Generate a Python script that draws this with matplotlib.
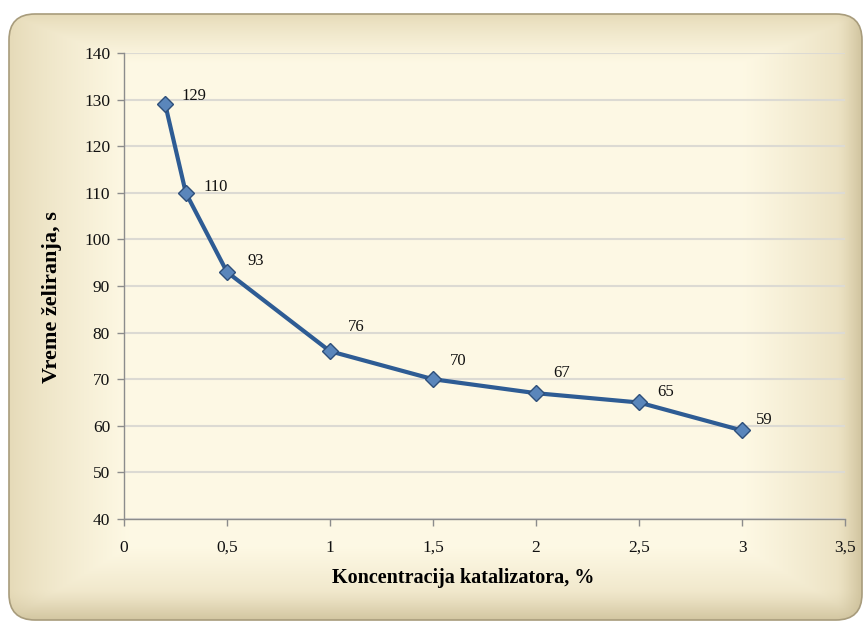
import numpy as np
import matplotlib
matplotlib.use("Agg")
import matplotlib.pyplot as plt
from matplotlib.patches import FancyBboxPatch

x_vals = [0.2, 0.3, 0.5, 1.0, 1.5, 2.0, 2.5, 3.0]
y_vals = [129, 110, 93, 76, 70, 67, 65, 59]
labels = ["129", "110", "93", "76", "70", "67", "65", "59"]
x_ticks = [0, 0.5, 1, 1.5, 2, 2.5, 3, 3.5]
x_tick_labels = ["0", "0,5", "1", "1,5", "2", "2,5", "3", "3,5"]
y_ticks = [40, 50, 60, 70, 80, 90, 100, 110, 120, 130, 140]
x_title = "Koncentracija katalizatora, %"
y_title = "Vreme želiranja, s"

# label offsets in pixels (layout only)
label_dx = [16, 18, 20, 18, 17, 17, 18, 14]
label_dy = [8, 6, 11, 24, 18, 20, 11, 10]

plt.rcParams['font.family'] = ['Liberation Serif', 'DejaVu Serif']

W, H = 863, 623
fig = plt.figure(figsize=(W / 100, H / 100), dpi=100)
fig.patch.set_facecolor("white")

# background frame with gradient
bg = fig.add_axes([0, 0, 1, 1])
bg.set_xlim(0, W)
bg.set_ylim(H, 0)
bg.axis("off")
x0, y0, x1, y1 = 9, 14, W - 1, 620
nx, ny = 500, 360
xx = np.linspace(0, 1, nx)
yy = np.linspace(0, 1, ny)
X, Y = np.meshgrid(xx, yy)
tl = np.clip(X / 0.14, 0, 1)
tr = np.clip((1 - X) / 0.14, 0, 1)
tt = np.clip(Y / 0.08, 0, 1)
tb = np.clip((1 - Y) / 0.12, 0, 1)
t = np.minimum(np.minimum(tl, tr), np.minimum(tt, tb))
t = t ** 0.8
c_edge = np.array([0.90, 0.855, 0.72])
c_mid = np.array([0.995, 0.975, 0.895])
img = c_edge[None, None, :] * (1 - t[..., None]) + c_mid[None, None, :] * t[..., None]
# darker rim near right and bottom
rim_r = (np.clip(1 - (1 - X) / 0.03, 0, 1) ** 1.5)[..., None]
rim_b = (np.clip(1 - (1 - Y) / 0.05, 0, 1) ** 1.5)[..., None]
dark = np.array([0.78, 0.73, 0.58])
img = img * (1 - 0.7 * rim_r) + dark * 0.7 * rim_r
img = img * (1 - 0.6 * rim_b) + dark * 0.6 * rim_b
frame = FancyBboxPatch((x0, y0), x1 - x0, y1 - y0, boxstyle="round,pad=0,rounding_size=26",
                       facecolor="none", edgecolor="#a89c7c", linewidth=1.2, zorder=3)
bg.add_patch(frame)
im = bg.imshow(img, extent=(x0, x1, y1, y0), aspect="auto", zorder=1)
im.set_clip_path(frame)

ax = fig.add_axes([124 / W, (H - 519) / H, (845 - 124) / W, (519 - 53) / H])
ax.set_facecolor("none")
ax.plot(x_vals, y_vals, color="#2e5c94", linewidth=3, zorder=3,
        marker="D", markersize=8, markerfacecolor="#5a86bb", markeredgecolor="#2e4f7a",
        markeredgewidth=1.0)
for xv, yv, lb, dx, dy in zip(x_vals, y_vals, labels, label_dx, label_dy):
    ax.annotate(lb, (xv, yv), xytext=(dx, dy), textcoords="offset pixels",
                fontsize=12, color="#111111", va="center", ha="left")

ax.set_xlim(0, 3.5)
ax.set_ylim(40, 140)
ax.set_xticks(x_ticks)
ax.set_xticklabels(x_tick_labels)
ax.set_yticks(y_ticks)
ax.grid(axis="y", color="#dcdad3", linewidth=1.5)
ax.set_axisbelow(True)
for s in ["top", "right"]:
    ax.spines[s].set_visible(False)
for s in ["left", "bottom"]:
    ax.spines[s].set_color("#8c8c8c")
    ax.spines[s].set_linewidth(1.0)
ax.tick_params(axis="both", colors="#8c8c8c", labelcolor="#111111", labelsize=12.5,
               length=5, width=1.0, direction="out")
ax.tick_params(axis="x", pad=10)
ax.tick_params(axis="y", pad=5)
ax.set_xlabel(x_title, fontsize=14.5, fontweight="bold")
ax.set_ylabel(y_title, fontsize=16, fontweight="bold")
ax.xaxis.set_label_coords((463 - 124) / (845 - 124), -(578 - 519) / (519 - 53))
ax.yaxis.set_label_coords(-(124 - 52) / (845 - 124), (519 - 297) / (519 - 53))
ax.xaxis.label.set_va("center")
ax.yaxis.label.set_va("center")

fig.savefig("out.png", dpi=100)
